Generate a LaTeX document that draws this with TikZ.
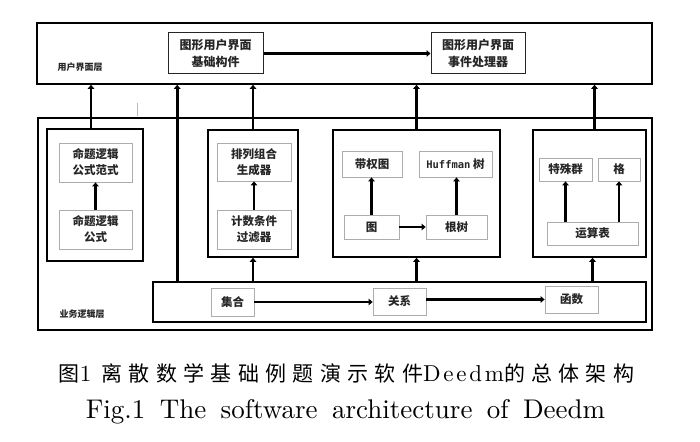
\documentclass[tikz,border=0pt]{standalone}
\usepackage{fontspec}
\newfontfamily\cjk{Noto Sans CJK SC}
\newfontfamily\cjkcap[LetterSpace=30]{Noto Sans CJK SC}
\newfontfamily\lmcap[LetterSpace=12]{lmroman10-regular.otf}
\newfontfamily\lmfig[WordSpace=1.6]{lmroman10-regular.otf}
\newfontfamily\monob{DejaVu Sans Mono}
\usetikzlibrary{arrows.meta}

\begin{document}
\begin{tikzpicture}[x=1pt, y=-1pt,
    layer/.style={rectangle, draw, line width=1.6pt, inner sep=0pt},
    panel/.style={rectangle, draw, line width=1.6pt, inner sep=0pt},
    guibox/.style={rectangle, draw=black!85, line width=1pt, align=center,
                   inner sep=0pt, text=black!85,
                   font=\cjk\bfseries\fontsize{12}{17}\selectfont},
    item/.style={rectangle, draw=gray!65, line width=0.8pt, align=center,
                 inner sep=0pt, text=black!85,
                 font=\cjk\bfseries\fontsize{11.5}{16}\selectfont},
    lbl/.style={font=\cjk\bfseries\fontsize{9}{10}\selectfont, text=black!85},
    arr/.style={line width=2.6pt, -{Triangle[length=4pt,width=6.5pt]}},
    >=Triangle
]
\useasboundingbox (0,0) rectangle (700,441);

% 两层
\node[layer, minimum width=615pt, minimum height=61pt] (ui) at (344.5,53.5) {};
\node[layer, minimum width=614pt, minimum height=212pt] (biz) at (345,224) {};
\node[lbl] (uilbl) at (80,67) {用户界面层};
\node[lbl] (bizlbl) at (82,314) {业务逻辑层};

% 用户界面层
\node[guibox, minimum width=95pt, minimum height=41pt] (guibase) at (215.5,53.5)
    {图形用户界面\\基础构件};
\node[guibox, minimum width=94pt, minimum height=41pt] (guievent) at (478,53.5)
    {图形用户界面\\事件处理器};

% 业务逻辑层模块
\node[panel, minimum width=96pt, minimum height=132pt] (plogic) at (95,195) {};
\node[panel, minimum width=90pt, minimum height=127pt] (comb) at (253,193.5) {};
\node[panel, minimum width=167pt, minimum height=127pt] (graph) at (416.5,193.5) {};
\node[panel, minimum width=113pt, minimum height=127pt] (alg) at (589.5,193.5) {};

\node[item, minimum width=73pt, minimum height=39pt] (nf) at (95.5,162.5)
    {命题逻辑\\公式范式};
\node[item, minimum width=73pt, minimum height=39pt] (pf) at (95.5,229.5)
    {命题逻辑\\公式};

\node[item, minimum width=74pt, minimum height=38pt] (gen) at (254,162)
    {排列组合\\生成器};
\node[item, minimum width=74pt, minimum height=39pt] (filt) at (254,229.5)
    {计数条件\\过滤器};

\node[item, minimum width=60pt, minimum height=26pt] (wgraph) at (372,164) {带权图};
\node[item, minimum width=73pt, minimum height=26pt] (huff) at (455.5,164)
    {{\monob\bfseries\fontsize{10.5}{12}\selectfont Huffman} 树};
\node[item, minimum width=55pt, minimum height=24pt] (graphn) at (371.5,227) {图};
\node[item, minimum width=61pt, minimum height=24pt] (rtree) at (456.5,227) {根树};

\node[item, minimum width=53pt, minimum height=23pt] (sgrp) at (565.5,169.5) {特殊群};
\node[item, minimum width=42pt, minimum height=23pt] (lattice) at (619,169.5) {格};
\node[item, minimum width=91pt, minimum height=23pt] (optab) at (592.5,233.5) {运算表};

\node[panel, minimum width=493pt, minimum height=40pt] (sets) at (399.5,302) {};
\node[item, minimum width=43pt, minimum height=28pt] (setn) at (232.5,302) {集合};
\node[item, minimum width=53pt, minimum height=27pt] (rel) at (399.5,301.5) {关系};
\node[item, minimum width=53pt, minimum height=27pt] (func) at (571.5,299.5) {函数};

% 箭头
\draw[arr] (guibase.east) -- (guievent.west);

\coordinate (plup) at ([xshift=-4pt]plogic.north);
\draw[arr] (plup) -- (plup |- ui.south);
\coordinate (busup) at ([xshift=25pt]sets.north west);
\draw[arr] (busup) -- (busup |- ui.south);
\draw[arr] (comb.north) -- (comb.north |- ui.south);
\draw[arr] (graph.north) -- (graph.north |- ui.south);
\coordinate (algup) at ([xshift=5pt]alg.north);
\draw[arr] (algup) -- (algup |- ui.south);

\draw[arr] (comb.south |- sets.north) -- (comb.south);
\draw[arr] (graph.south |- sets.north) -- (graph.south);
\coordinate (algdn) at ([xshift=3pt]alg.south);
\draw[arr] (algdn |- sets.north) -- (algdn);

\draw[arr] (pf.north) -- (nf.south);
\draw[arr] (filt.north) -- (gen.south);
\draw[arr] (graphn.north) -- (graphn.north |- wgraph.south);
\draw[arr] (rtree.north) -- (rtree.north |- huff.south);
\draw[arr] (graphn.east) -- (rtree.west);
\draw[arr] (sgrp.south |- optab.north) -- (sgrp.south);
\draw[arr] (lattice.south |- optab.north) -- (lattice.south);

\draw[arr, line width=2.3pt] (setn.east) -- (setn.east -| rel.west);
\draw[arr, line width=2.3pt] (func.west -| rel.east) -- (func.west);

% 细灰线
\draw[gray!55, line width=0.8pt] (137,103) -- (137,116);

% 图题
\node (cap1) at (346.5,373) {\fontsize{21}{24}\selectfont
    {\cjkcap 图}{\lmcap\fontsize{23}{24}\selectfont 1 }{\cjkcap 离散数学基础例题演示软件}%
    {\lmcap\fontsize{23}{24}\selectfont Deedm}{\cjkcap 的总体架构}};
\node (cap2) at (345.5,412) {\lmfig\fontsize{27}{30}\selectfont
    Fig.1 The software architecture of Deedm};

\end{tikzpicture}
\end{document}
